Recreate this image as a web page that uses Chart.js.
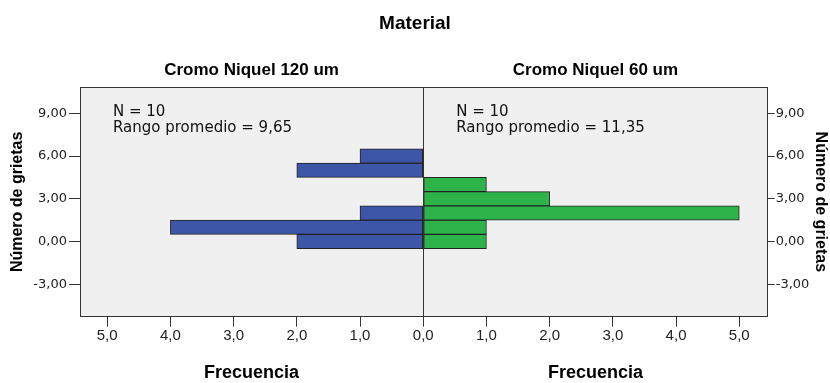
<!DOCTYPE html>
<html>
<head>
<meta charset="utf-8">
<script src="https://cdn.jsdelivr.net/npm/chart.js@4/dist/chart.umd.min.js"></script>
<style>
  html, body { margin: 0; padding: 0; background: #ffffff; }
  canvas { display: block; }
</style>
</head>
<body>
<canvas id="chart" width="830" height="383"></canvas>
<script>
// Back-to-back frequency histogram of crack counts per material
const chartTitle = 'Material';
const groups = ['Cromo Niquel 120 um', 'Cromo Niquel 60 um'];
const bins = [0, 1, 2, 3, 4, 5, 6];            // centre of each crack-count bin
const freq120 = [2, 4, 1, 0, 0, 2, 1];         // left panel frequencies
const freq60 = [1, 1, 5, 2, 1, 0, 0];          // right panel frequencies
const groupN = [10, 10];
const meanRank = [9.65, 11.35];
const yTicks = [-3, 0, 3, 6, 9];
const xTicks = [-5, -4, -3, -2, -1, 0, 1, 2, 3, 4, 5];
const yTitle = 'Número de grietas';
const xTitle = 'Frecuencia';

const fmt = (v, d) => v.toFixed(d).replace('.', ',');
const ink = '#222222';
const sansBold = "'Liberation Sans', Arial, sans-serif";

// left panel grows to the left, so its counts are plotted as negative values
const leftPoints = bins.map((b, i) => ({ y: b, x: freq120[i] ? -freq120[i] : null }));
const rightPoints = bins.map((b, i) => ({ y: b, x: freq60[i] ? freq60[i] : null }));

const panelPlugin = {
  id: 'panelPlugin',
  beforeDraw(chart) {
    const { ctx, chartArea: a } = chart;
    ctx.save();
    ctx.fillStyle = '#f0f0f0';
    ctx.fillRect(a.left, a.top, a.right - a.left, a.bottom - a.top);
    ctx.restore();
  },
  afterDraw(chart) {
    const { ctx, chartArea: a } = chart;
    const x0 = chart.scales.x.getPixelForValue(0);
    ctx.save();
    // frame round the plot area
    ctx.strokeStyle = '#333333';
    ctx.lineWidth = 1;
    const l = Math.round(a.left) + 0.5, t = Math.round(a.top) + 0.5;
    const r = Math.round(a.right) - 0.5, b = Math.round(a.bottom) - 0.5;
    ctx.strokeRect(l, t, r - l, b - t);

    const centres = [(a.left + x0) / 2, (x0 + a.right) / 2];
    const starts = [a.left + 33, x0 + 33];

    ctx.fillStyle = '#000000';
    ctx.textAlign = 'center';
    ctx.textBaseline = 'middle';
    // panel headings
    ctx.font = 'bold 17px ' + sansBold;
    groups.forEach((g, i) => ctx.fillText(g, centres[i], a.top - 17));
    // axis titles under each panel
    ctx.font = 'bold 18px ' + sansBold;
    centres.forEach(cx => ctx.fillText(xTitle, cx, a.bottom + 56.5));

    // group statistics
    ctx.textAlign = 'left';
    ctx.textBaseline = 'alphabetic';
    ctx.font = "15px 'DejaVu Sans', sans-serif";
    ctx.fillStyle = '#111111';
    groups.forEach((g, i) => {
      ctx.fillText('N = ' + groupN[i], starts[i], a.top + 29);
      ctx.fillText('Rango promedio = ' + fmt(meanRank[i], 2), starts[i], a.top + 45);
    });
    ctx.restore();
  }
};

const yTickOpts = {
  font: { family: "'DejaVu Sans', sans-serif", size: 13 },
  color: ink,
  callback: v => fmt(v, 2)
};

new Chart(document.getElementById('chart'), {
  type: 'bar',
  data: {
    datasets: [
      {
        label: groups[0],
        data: leftPoints,
        backgroundColor: '#3e56a8',
        borderColor: ink,
        borderWidth: 1,
        borderSkipped: false,
        barPercentage: 1,
        categoryPercentage: 1
      },
      {
        label: groups[1],
        data: rightPoints,
        backgroundColor: '#2eb34b',
        borderColor: ink,
        borderWidth: 1,
        borderSkipped: false,
        barPercentage: 1,
        categoryPercentage: 1
      }
    ]
  },
  options: {
    indexAxis: 'y',
    responsive: false,
    animation: false,
    devicePixelRatio: 1,
    layout: { padding: 0 },
    plugins: {
      legend: { display: false },
      tooltip: { enabled: false },
      title: {
        display: true,
        text: chartTitle,
        color: '#000000',
        font: { family: sansBold, size: 19, weight: 'bold' },
        padding: { top: 12, bottom: 52.2 }
      }
    },
    scales: {
      x: {
        type: 'linear',
        position: 'bottom',
        min: -5.43,
        max: 5.45,
        stacked: true,
        afterBuildTicks: s => { s.ticks = xTicks.map(v => ({ value: v })); },
        afterFit: s => { s.height = 66.3; },
        ticks: {
          z: 1,
          padding: 0,
          maxRotation: 0,
          autoSkip: false,
          color: ink,
          font: { family: "'Liberation Sans', Arial, sans-serif", size: 15 },
          callback: v => fmt(Math.abs(v), 1)
        },
        grid: {
          z: 1,
          drawOnChartArea: true,
          color: c => (c.tick && c.tick.value === 0 ? '#333333' : 'rgba(0,0,0,0)'),
          tickColor: '#333333',
          tickLength: 10
        },
        border: { display: false }
      },
      y: {
        type: 'linear',
        position: 'left',
        min: -5.28,
        max: 10.85,
        offset: false,
        stacked: true,
        afterBuildTicks: s => { s.ticks = yTicks.map(v => ({ value: v })); },
        afterFit: s => { s.width = 80; },
        ticks: Object.assign({ padding: 2 }, yTickOpts),
        grid: { offset: false, drawOnChartArea: false, tickColor: '#333333', tickLength: 11 },
        border: { display: false },
        title: {
          display: true,
          text: yTitle,
          color: '#000000',
          font: { family: sansBold, size: 16, weight: 'bold' },
          padding: { top: 8, bottom: 0 }
        }
      },
      y2: {
        type: 'linear',
        position: 'right',
        min: -5.28,
        max: 10.85,
        offset: false,
        afterBuildTicks: s => { s.ticks = yTicks.map(v => ({ value: v })); },
        afterFit: s => { s.width = 62.3; },
        ticks: Object.assign({ padding: 1 }, yTickOpts),
        grid: { offset: false, drawOnChartArea: false, tickColor: '#333333', tickLength: 7 },
        border: { display: false },
        title: {
          display: true,
          text: yTitle,
          color: '#000000',
          font: { family: sansBold, size: 16, weight: 'bold' },
          padding: { top: 0, bottom: 0 }
        }
      }
    }
  },
  plugins: [panelPlugin]
});
</script>
</body>
</html>
